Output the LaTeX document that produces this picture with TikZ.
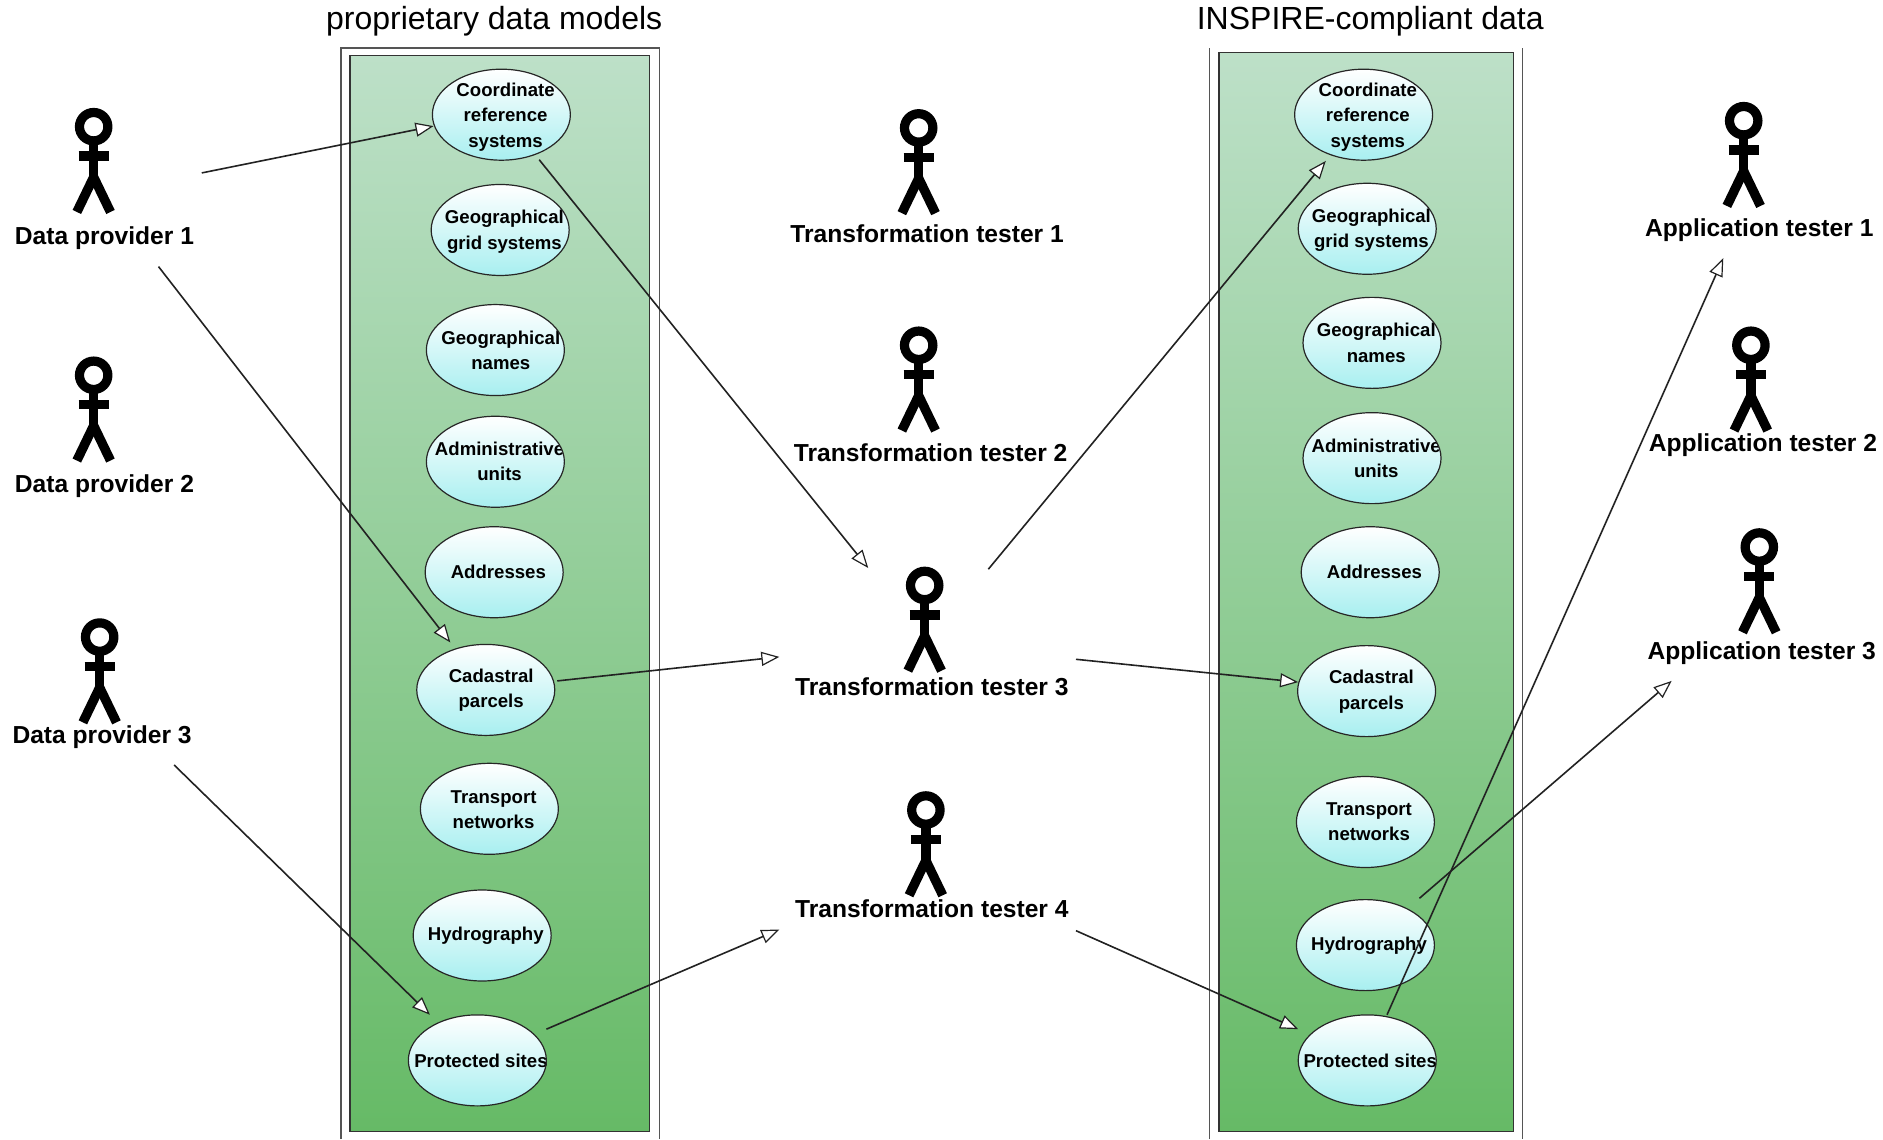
\documentclass[tikz,border=0pt]{standalone}
\usepackage{fontspec}
\setmainfont{Liberation Sans}
\usetikzlibrary{arrows.meta,shapes.geometric,calc}
\definecolor{frameline}{HTML}{555555}
\definecolor{linkcol}{HTML}{222222}
\definecolor{pkgtop}{HTML}{BDE0C8}
\definecolor{pkgbot}{HTML}{66BA66}
\definecolor{uctop}{HTML}{FFFFFF}
\definecolor{ucbot}{HTML}{A8EFF0}
\tikzset{
  title/.style={font=\fontsize{16}{19}\selectfont,text=black,inner sep=0},
  pkg/.style={draw=black!80,line width=0.6pt,top color=pkgtop,bottom color=pkgbot,rectangle,inner sep=0,anchor=north west},
  frameln/.style={draw=frameline,line width=0.6pt},
  usecase/.style={ellipse,draw=black!85,line width=0.6pt,top color=uctop,bottom color=ucbot,minimum width=69pt,minimum height=45.5pt,inner sep=0,outer sep=0},
  uctext/.style={font=\fontsize{9.3}{12.6}\selectfont\bfseries,align=center,text=black,inner sep=0},
  actorlabel/.style={font=\fontsize{12.3}{14}\selectfont\bfseries,text=black,inner sep=0},
  actorline/.style={draw=black,line width=4.7pt},
  link/.style={draw=linkcol,line width=0.8pt,-{Triangle[open,fill=white,length=9pt,width=7pt,line width=0.6pt]}},
}
\newcommand{\ucase}[6]{% name, x,y, text dx, text dy, text
  \node[usecase,path picture={\node[uctext] at ($(path picture bounding box.center)+(#4,#5)$) {#6};}] (#1) at (#2,#3) {};}
\newcommand{\stick}[3]{% name, head x, y
  \begin{scope}[shift={(#2,#3)}]
    \draw[actorline] (0,12) -- (0,43);
    \draw[actorline] (-12.6,24.5) -- (12.6,24.5);
    \draw[actorline] (0,42) -- (-14,71);
    \draw[actorline] (0,42) -- (14,71);
    \node[circle,draw=black,line width=4.6pt,fill=white,minimum size=14.2pt,inner sep=0] (#1) at (0,0) {};
  \end{scope}}
\begin{document}
\begin{tikzpicture}[x=0.60045pt,y=-0.60045pt]
\useasboundingbox (0,0) rectangle (1568,948.5);
\fill[white] (0,0) rectangle (1568,948.5);
% frames
\draw[frameln] (284,948.5) -- (284,40) -- (549,40) -- (549,948.5);
\draw[frameln] (1007,948.5) -- (1007,40);
\draw[frameln] (1268,40) -- (1268,948.5);
\node[pkg,minimum width=149.7pt,minimum height=537.8pt] (pkgA) at (291,46) {};
\node[pkg,minimum width=147.3pt,minimum height=539.2pt] (pkgB) at (1014.5,43.5) {};
\node[title] (titleA) at (411.5,18) {proprietary data models};
\node[title] (titleB) at (1141,17.5) {INSPIRE-compliant data};
% use cases
\ucase{a1}{417.5}{95.5}{3.5}{2}{Coordinate\\reference\\systems}
\ucase{a2}{416.5}{191.5}{3.5}{1.5}{Geographical\\grid systems}
\ucase{a3}{412.5}{291.5}{4.5}{0.5}{Geographical\\names}
\ucase{a4}{412.5}{384.5}{3.5}{0}{Administrative\\units}
\ucase{a5}{411.5}{476.5}{3.5}{0}{Addresses}
\ucase{a6}{404.5}{574.5}{4.5}{0.5}{Cadastral\\parcels}
\ucase{a7}{407.5}{673.5}{3.5}{0.5}{Transport\\networks}
\ucase{a8}{401.5}{779}{3}{0.5}{Hydrography}
\ucase{a9}{397.5}{883}{3}{0}{Protected sites}
\ucase{b1}{1135.5}{95.5}{3.5}{2}{Coordinate\\reference\\systems}
\ucase{b2}{1138.5}{190.5}{3.5}{1}{Geographical\\grid systems}
\ucase{b3}{1142.5}{285.5}{3.5}{0}{Geographical\\names}
\ucase{b4}{1142.5}{381.5}{3.5}{0}{Administrative\\units}
\ucase{b5}{1141}{476.5}{3.5}{0}{Addresses}
\ucase{b6}{1138}{575.5}{4}{0.5}{Cadastral\\parcels}
\ucase{b7}{1137}{684.5}{3}{-0.5}{Transport\\networks}
\ucase{b8}{1137}{787}{3}{0.5}{Hydrography}
\ucase{b9}{1138.5}{883}{2.5}{0}{Protected sites}
% actors
\stick{hd1}{78}{105.5}
\stick{hd2}{78}{312.5}
\stick{hd3}{83}{530.5}
\stick{ht1}{765}{106.5}
\stick{ht2}{765}{287.5}
\stick{ht3}{770}{487.5}
\stick{ht4}{771}{674.5}
\stick{ha1}{1452}{100.5}
\stick{ha2}{1458}{287.5}
\stick{ha3}{1465}{455.5}
\node[actorlabel] (dp1) at (87,198) {Data provider 1};
\node[actorlabel] (dp2) at (87,405) {Data provider 2};
\node[actorlabel] (dp3) at (85,614) {Data provider 3};
\node[actorlabel] (tt1) at (772,195) {Transformation tester 1};
\node[actorlabel] (tt2) at (775,377) {Transformation tester 2};
\node[actorlabel] (tt3) at (776,572) {Transformation tester 3};
\node[actorlabel] (tt4) at (776,756.5) {Transformation tester 4};
\node[actorlabel] (at1) at (1465,192) {Application tester 1};
\node[actorlabel] (at2) at (1468,371) {Application tester 2};
\node[actorlabel] (at3) at (1467,544) {Application tester 3};
% connector ends
\coordinate (c1) at (168,144);  \coordinate (e1) at (361,105);
\coordinate (c2) at (132,222);  \coordinate (e2) at (375,535);
\coordinate (c3) at (145,637);  \coordinate (e3) at (358,845);
\coordinate (c4) at (449,133);  \coordinate (e4) at (723,473);
\coordinate (c5) at (464,567);  \coordinate (e5) at (649,547);
\coordinate (c6) at (455,857);  \coordinate (e6) at (649,774);
\coordinate (c7) at (823,474);  \coordinate (e7) at (1104,134);
\coordinate (c8) at (896,549);  \coordinate (e8) at (1081,568);
\coordinate (c9) at (896,775);  \coordinate (e9) at (1081,857);
\coordinate (c10) at (1155,845); \coordinate (e10) at (1435,215);
\coordinate (c11) at (1182,748); \coordinate (e11) at (1392,567);
\foreach \i in {1,...,11} {\draw[link] (c\i) -- (e\i);}
\end{tikzpicture}
\end{document}
